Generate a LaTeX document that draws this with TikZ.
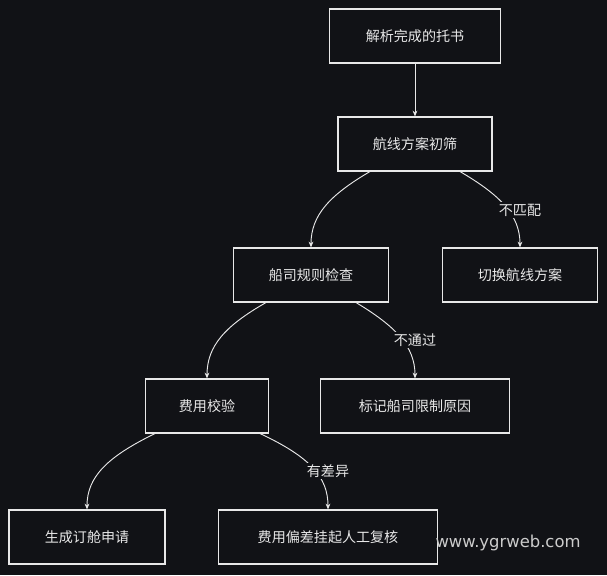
\documentclass[tikz,border=0pt]{standalone}
\usepackage{fontspec}
\setmainfont{Noto Sans CJK SC}
\usetikzlibrary{arrows.meta}
\definecolor{bg}{RGB}{17,18,22}
\definecolor{fg}{RGB}{232,232,232}
\begin{document}
\begin{tikzpicture}[x=0.03cm,y=-0.03cm,
  box/.style={draw=fg,line width=0.9pt,text=fg,font=\fontsize{12}{14}\selectfont,inner sep=0pt},
  arr/.style={draw=fg,line width=0.8pt,-{Stealth[length=5pt,width=4pt]}},
  lbl/.style={fill=bg,text=fg,font=\fontsize{12}{14}\selectfont,inner sep=1.5pt}]
\fill[bg] (0,0) rectangle (607,575);
\useasboundingbox (0,0) rectangle (607,575);
\node[box,minimum width=171*0.03cm,minimum height=54*0.03cm] (a) at (415,36) {解析完成的托书};
\node[box,minimum width=154*0.03cm,minimum height=54*0.03cm] (b) at (415,144) {航线方案初筛};
\node[box,minimum width=155*0.03cm,minimum height=54*0.03cm] (c) at (311,275) {船司规则检查};
\node[box,minimum width=155*0.03cm,minimum height=54*0.03cm] (d) at (520,275) {切换航线方案};
\node[box,minimum width=123*0.03cm,minimum height=54*0.03cm] (e) at (207,406) {费用校验};
\node[box,minimum width=189*0.03cm,minimum height=54*0.03cm] (f) at (415,406) {标记船司限制原因};
\node[box,minimum width=156*0.03cm,minimum height=54*0.03cm] (g) at (87,537) {生成订舱申请};
\node[box,minimum width=219*0.03cm,minimum height=54*0.03cm] (h) at (328,537) {费用偏差挂起人工复核};
\coordinate (b1) at ([xshift=-45*0.03cm]b.south);
\coordinate (b2) at ([xshift=45*0.03cm]b.south);
\coordinate (c1) at ([xshift=-45*0.03cm]c.south);
\coordinate (c2) at ([xshift=45*0.03cm]c.south);
\coordinate (e1) at ([xshift=-52*0.03cm]e.south);
\coordinate (e2) at ([xshift=53*0.03cm]e.south);
\draw[arr] (a) -- (b);
\draw[arr] (b1) .. controls (330,195) and (311,215) .. (c.north);
\draw[arr] (b2) .. controls (500,195) and (520,215) .. (d.north);
\draw[arr] (c1) .. controls (225,326) and (207,346) .. (e.north);
\draw[arr] (c2) .. controls (395,326) and (415,346) .. (f.north);
\draw[arr] (e1) .. controls (107,457) and (87,477) .. (g.north);
\draw[arr] (e2) .. controls (310,457) and (328,477) .. (h.north);
\node[lbl] (l1) at (520,210) {不匹配};
\node[lbl] (l2) at (415,340) {不通过};
\node[lbl] (l3) at (328,471) {有差异};
\node[text=white!80!black,font=\fontsize{14}{16}\selectfont\fontspec{DejaVu Sans}] (w) at (508,543) {www.ygrweb.com};
\end{tikzpicture}
\end{document}
